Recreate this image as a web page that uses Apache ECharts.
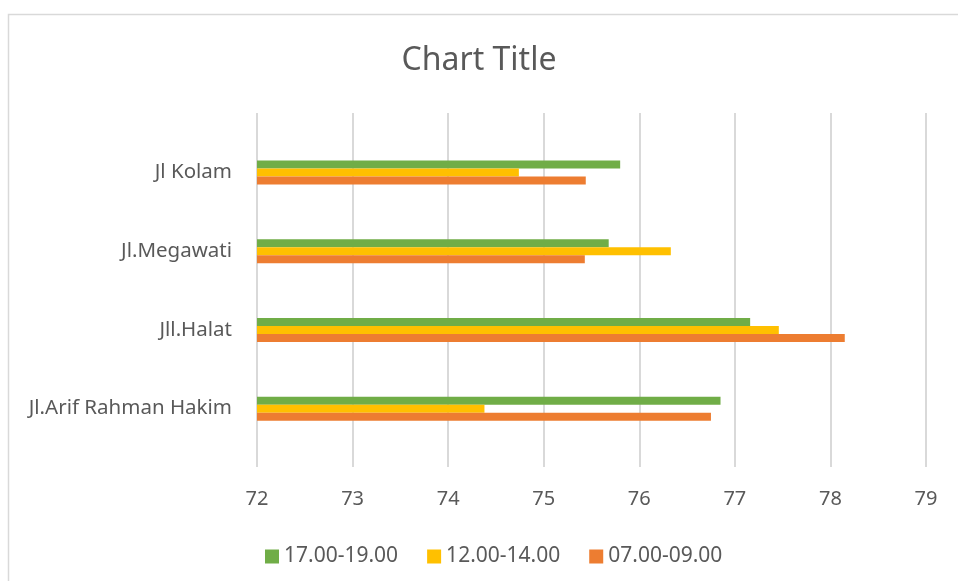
<!DOCTYPE html>
<html>
<head>
<meta charset="utf-8">
<script src="https://cdn.jsdelivr.net/npm/echarts@6/dist/echarts.min.js"></script>
<style>
  html, body { margin: 0; padding: 0; background: #fff; }
  #chart { width: 958px; height: 581px; }
</style>
</head>
<body>
<div id="chart"></div>
<script>
  // data
  const roads = ['Jl.Arif Rahman Hakim', 'Jll.Halat', 'Jl.Megawati', 'Jl Kolam'];
  const evening = [76.85, 77.16, 75.68, 75.80];   // 17.00-19.00
  const noon = [74.38, 77.46, 76.33, 74.74];      // 12.00-14.00
  const morning = [76.75, 78.15, 75.43, 75.44];   // 07.00-09.00
  const xTicks = [72, 73, 74, 75, 76, 77, 78, 79];

  const font = '"Noto Sans", sans-serif';
  const grey = '#595959';

  const myChart = echarts.init(document.getElementById('chart'));

  const option = {
    backgroundColor: '#fff',
    textStyle: { fontFamily: font, color: grey },
    title: {
      text: 'Chart Title',
      left: 'center',
      top: 40,
      textStyle: { fontSize: 32, fontWeight: 'normal', color: grey, fontFamily: font }
    },
    legend: {
      data: ['17.00-19.00', '12.00-14.00', '07.00-09.00'],
      left: 260,
      top: 541,
      icon: 'rect',
      itemWidth: 14,
      itemHeight: 14,
      itemGap: 29,
      textStyle: { fontSize: 21, color: grey, fontFamily: font }
    },
    grid: [
      // grid for the gridlines and tick labels
      { left: 257, right: 32, top: 113, bottom: 114 },
      // grid for the bars
      { left: 257, right: 32, top: 133, bottom: 133 }
    ],
    xAxis: [
      {
        gridIndex: 0,
        type: 'value',
        min: xTicks[0],
        max: xTicks[xTicks.length - 1],
        interval: 1,
        axisLine: { show: false },
        axisTick: { show: false },
        splitLine: { lineStyle: { color: '#d9d9d9', width: 2 } },
        axisLabel: { margin: 22, fontSize: 20, color: grey, fontFamily: font }
      },
      {
        gridIndex: 1,
        type: 'value',
        min: xTicks[0],
        max: xTicks[xTicks.length - 1],
        interval: 1,
        show: false
      }
    ],
    yAxis: [
      {
        gridIndex: 0,
        type: 'category',
        data: roads,
        show: false
      },
      {
        gridIndex: 1,
        type: 'category',
        data: roads,
        axisLine: { show: false },
        axisTick: { show: false },
        axisLabel: { margin: 25, fontSize: 20.5, color: grey, fontFamily: font }
      }
    ],
    series: [
      {
        name: '17.00-19.00',
        type: 'bar',
        xAxisIndex: 1,
        yAxisIndex: 1,
        barWidth: 8,
        barGap: '0%',
        data: evening,
        itemStyle: { color: '#70ad47' }
      },
      {
        name: '12.00-14.00',
        type: 'bar',
        xAxisIndex: 1,
        yAxisIndex: 1,
        barWidth: 8,
        barGap: '0%',
        data: noon,
        itemStyle: { color: '#ffc000' }
      },
      {
        name: '07.00-09.00',
        type: 'bar',
        xAxisIndex: 1,
        yAxisIndex: 1,
        barWidth: 8,
        barGap: '0%',
        data: morning,
        itemStyle: { color: '#ed7d31' }
      }
    ],
    graphic: [
      {
        type: 'rect',
        shape: { x: 8.5, y: 14.5, width: 1000, height: 1000 },
        style: { fill: 'none', stroke: '#d9d9d9', lineWidth: 1.5 },
        silent: true
      }
    ]
  };

  myChart.setOption(option);
</script>
</body>
</html>
